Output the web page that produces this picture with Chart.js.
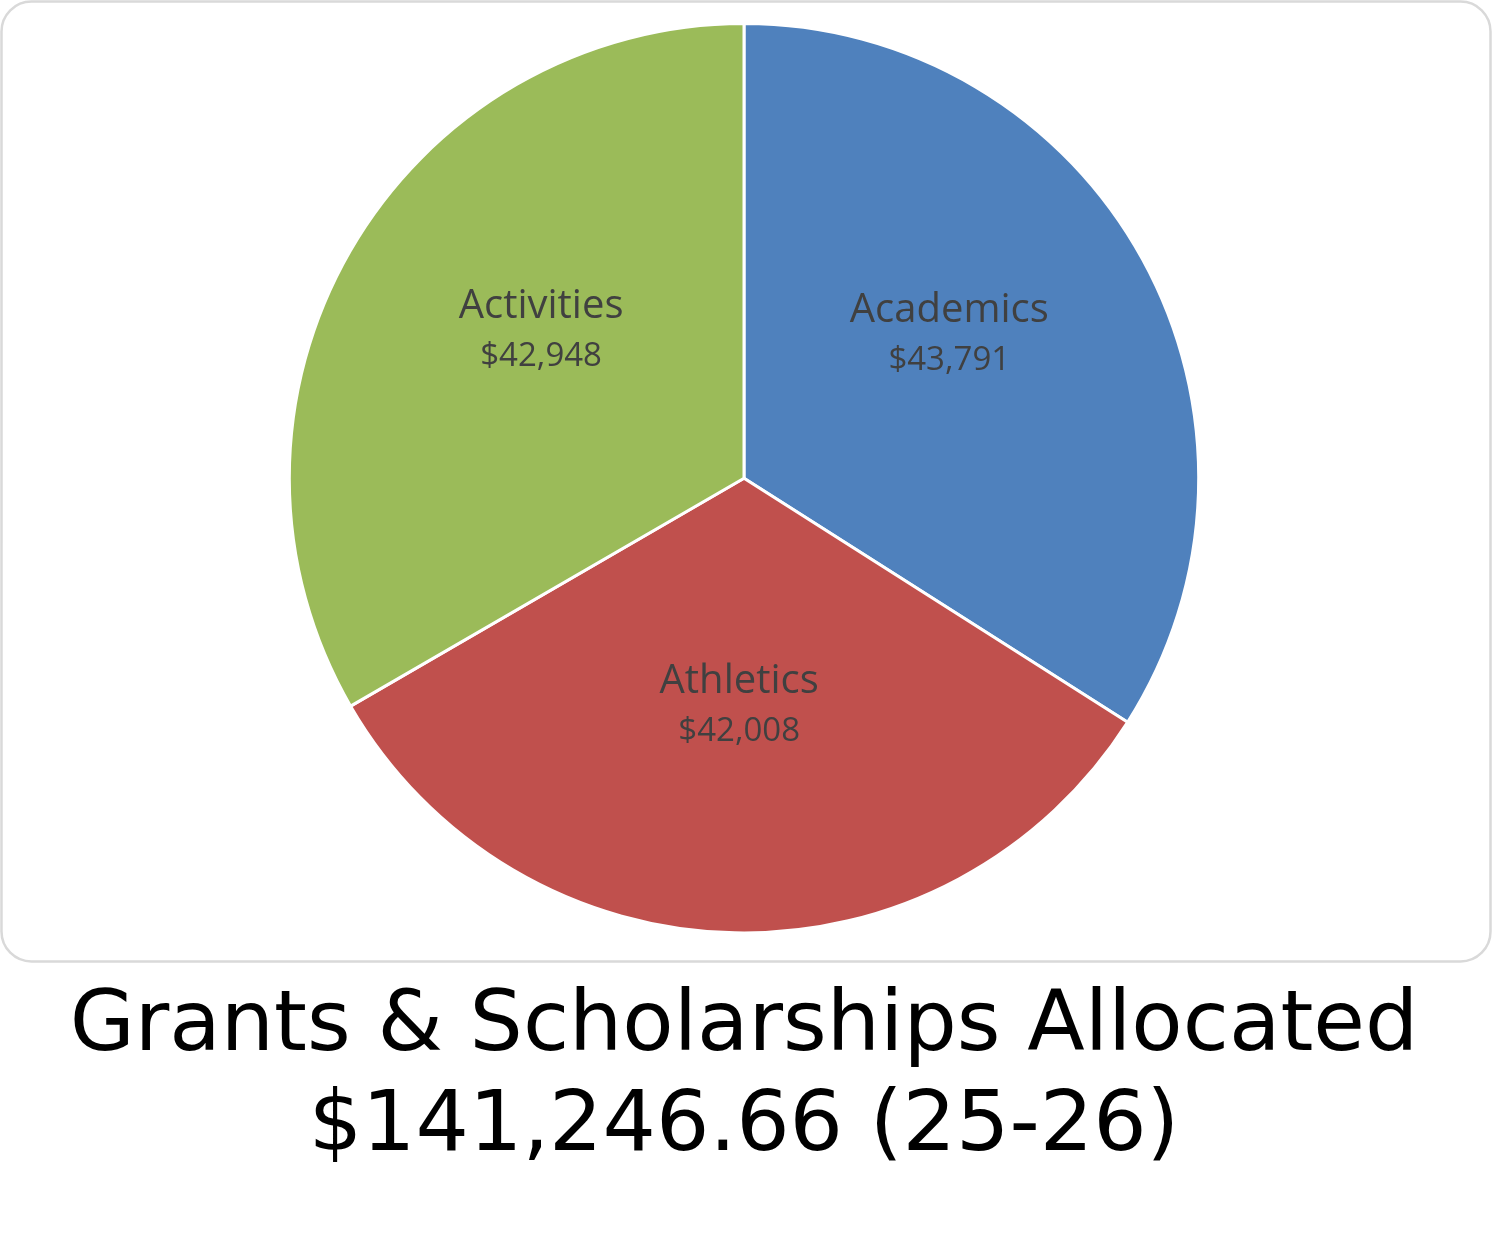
<!DOCTYPE html>
<html><head><meta charset="utf-8">
<script src="https://cdn.jsdelivr.net/npm/chart.js@4.4.1/dist/chart.umd.min.js"></script>
<style>html,body{margin:0;padding:0;background:#fff;}#wrap{width:1493px;height:1234px;position:relative;}</style>
</head><body><div id="wrap"><canvas id="c" width="1493" height="1234"></canvas></div>
<script>
const categories = ["Academics", "Athletics", "Activities"];
const amounts = [43791, 42008, 42948];
const amountLabels = ["$43,791", "$42,008", "$42,948"];
const sliceColors = ["#4F81BD", "#C0504D", "#9BBB59"];
const titleLines = ["Grants & Scholarships Allocated", "$141,246.66 (25-26)"];

const boxPlugin = {
  id: 'box',
  beforeDraw(chart) {
    const ctx = chart.ctx;
    ctx.save();
    ctx.strokeStyle = '#d9d9d9';
    ctx.lineWidth = 2.5;
    ctx.beginPath();
    ctx.roundRect(1.5, 1.5, 1489, 960, 30);
    ctx.stroke();
    ctx.restore();
  }
};
const labelPlugin = {
  id: 'sliceLabels',
  afterDatasetsDraw(chart) {
    const ctx = chart.ctx;
    const meta = chart.getDatasetMeta(0);
    ctx.save();
    ctx.fillStyle = '#404040';
    ctx.textAlign = 'center';
    ctx.textBaseline = 'middle';
    meta.data.forEach((arc, i) => {
      const p = arc.getProps(['x','y','startAngle','endAngle','outerRadius'], true);
      const mid = (p.startAngle + p.endAngle) / 2;
      const R = p.outerRadius;
      const x = p.x + Math.cos(mid) * R * 0.515;
      const y = p.y + Math.sin(mid) * R * 0.55 - 22;
      ctx.font = '40px "Open Sans"';
      ctx.fillText(categories[i], x, y - 25);
      ctx.font = '33px "Open Sans"';
      ctx.fillText(amountLabels[i], x, y + 25);
    });
    ctx.restore();
  }
};

new Chart(document.getElementById('c'), {
  type: 'pie',
  data: {
    labels: categories,
    datasets: [{
      data: amounts,
      backgroundColor: sliceColors,
      borderColor: '#ffffff',
      borderWidth: 3
    }]
  },
  options: {
    responsive: false,
    animation: false,
    layout: { padding: { top: 22, bottom: 0, left: 0, right: 5 } },
    plugins: {
      legend: { display: false },
      tooltip: { enabled: false },
      title: {
        display: true,
        position: 'bottom',
        text: titleLines,
        color: '#000000',
        font: { family: '"DejaVu Sans"', size: 84, weight: 'normal', lineHeight: 1.2 },
        padding: { top: 43, bottom: 55 }
      }
    }
  },
  plugins: [boxPlugin, labelPlugin]
});
</script></body></html>
